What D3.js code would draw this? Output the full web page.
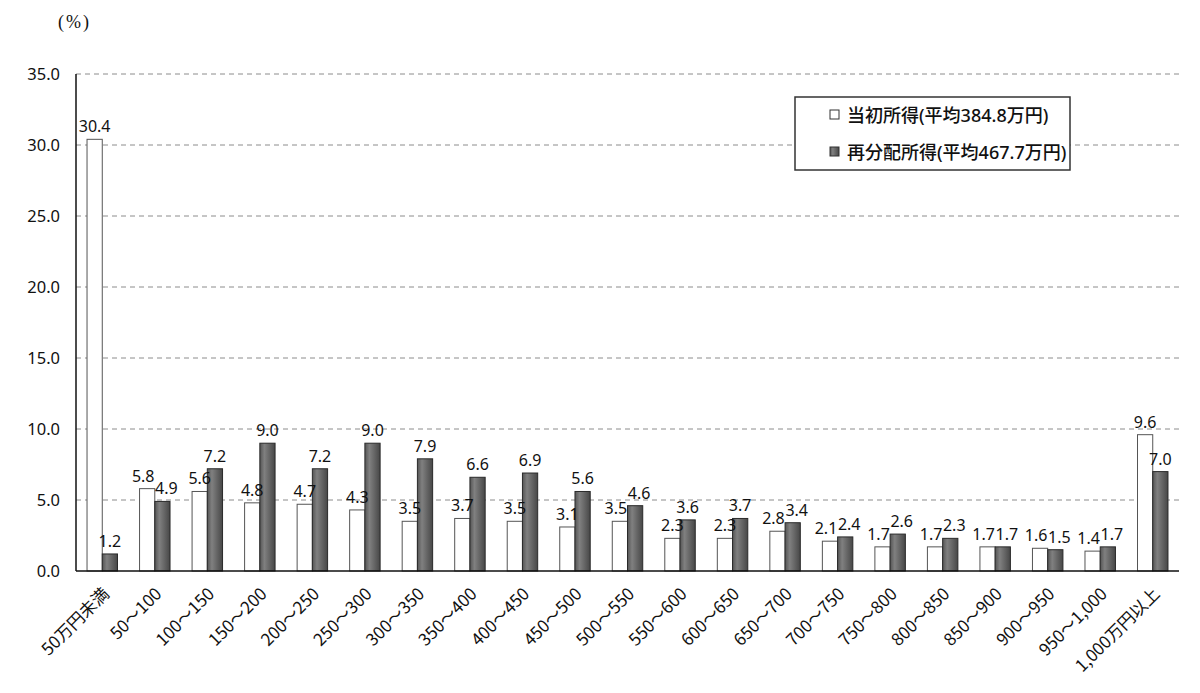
<!DOCTYPE html>
<html>
<head>
<meta charset="utf-8">
<script src="https://cdn.jsdelivr.net/npm/d3@7"></script>
<style>
  body { margin: 0; background: #fff; }
  text { font-family: "Noto Sans", "Noto Sans CJK JP", sans-serif; fill: #111; }
</style>
</head>
<body>
<div id="chart"></div>
<script>
const categories = ["50万円未満", "50～100", "100～150", "150～200", "200～250", "250～300",
  "300～350", "350～400", "400～450", "450～500", "500～550", "550～600", "600～650",
  "650～700", "700～750", "750～800", "800～850", "850～900", "900～950", "950～1,000", "1,000万円以上"];
const initialIncome = [30.4, 5.8, 5.6, 4.8, 4.7, 4.3, 3.5, 3.7, 3.5, 3.1, 3.5, 2.3, 2.3, 2.8, 2.1, 1.7, 1.7, 1.7, 1.6, 1.4, 9.6];
const redistributedIncome = [1.2, 4.9, 7.2, 9.0, 7.2, 9.0, 7.9, 6.6, 6.9, 5.6, 4.6, 3.6, 3.7, 3.4, 2.4, 2.6, 2.3, 1.7, 1.5, 1.7, 7.0];
const seriesNames = ["当初所得(平均384.8万円)", "再分配所得(平均467.7万円)"];
const yTicks = [0, 5, 10, 15, 20, 25, 30, 35];

const width = 1200, height = 693;
const margin = { top: 74, right: 21, bottom: 122, left: 76 };

const svg = d3.select("#chart").append("svg")
  .attr("width", width)
  .attr("height", height);

const defs = svg.append("defs");
const grad = defs.append("linearGradient").attr("id", "darkGrad")
  .attr("x1", "0%").attr("x2", "100%").attr("y1", "0%").attr("y2", "0%");
grad.append("stop").attr("offset", "0%").attr("stop-color", "#555");
grad.append("stop").attr("offset", "30%").attr("stop-color", "#808080");
grad.append("stop").attr("offset", "100%").attr("stop-color", "#474747");

const x0 = d3.scaleBand()
  .domain(categories)
  .range([margin.left, width - margin.right])
  .paddingInner(0.42)
  .paddingOuter(0.21);

const x1 = d3.scaleBand()
  .domain([0, 1])
  .range([0, x0.bandwidth()]);

const y = d3.scaleLinear()
  .domain([0, 35])
  .range([height - margin.bottom, margin.top]);

// grid lines
svg.append("g")
  .selectAll("line")
  .data(yTicks.filter(d => d > 0))
  .enter()
  .append("line")
  .attr("x1", margin.left)
  .attr("x2", width - margin.right)
  .attr("y1", d => y(d))
  .attr("y2", d => y(d))
  .attr("stroke", "#8c8c8c")
  .attr("stroke-width", 1)
  .attr("stroke-dasharray", "5,4");

// y axis labels
const yAxis = d3.axisLeft(y).tickValues(yTicks).tickFormat(d3.format(".1f")).tickSize(0).tickPadding(16);
const yG = svg.append("g")
  .attr("transform", `translate(${margin.left},0)`)
  .call(yAxis);
yG.select(".domain").remove();
yG.selectAll("text").attr("font-size", 16.5).attr("fill", "#111")
  .style("font-family", "'Noto Sans', sans-serif");

// bars
const groups = svg.append("g")
  .selectAll("g")
  .data(categories.map((c, i) => ({ c, vals: [initialIncome[i], redistributedIncome[i]] })))
  .enter()
  .append("g")
  .attr("transform", d => `translate(${x0(d.c)},0)`);

groups.selectAll("rect")
  .data(d => d.vals.map((v, k) => ({ v, k })))
  .enter()
  .append("rect")
  .attr("x", d => x1(d.k))
  .attr("y", d => y(d.v))
  .attr("width", x1.bandwidth())
  .attr("height", d => y(0) - y(d.v))
  .attr("fill", d => d.k === 0 ? "#fff" : "url(#darkGrad)")
  .attr("stroke", d => d.k === 0 ? "#555" : "#2a2a2a")
  .attr("stroke-width", 1);

// value labels, nudged apart when the two labels of a pair sit at similar heights
groups.selectAll("text.val")
  .data(d => {
    const close = Math.abs(y(d.vals[0]) - y(d.vals[1])) < 16;
    return d.vals.map((v, k) => ({ v, k, close }));
  })
  .enter()
  .append("text")
  .attr("class", "val")
  .attr("x", d => x1(d.k) + x1.bandwidth() / 2 + (d.close ? (d.k === 0 ? -4 : 4) : 0))
  .attr("y", d => y(d.v) - 7)
  .attr("text-anchor", "middle")
  .attr("font-size", 16)
  .text(d => d3.format(".1f")(d.v));

// axes lines
svg.append("line")
  .attr("x1", margin.left).attr("x2", margin.left)
  .attr("y1", y(35)).attr("y2", y(0))
  .attr("stroke", "#111").attr("stroke-width", 1.5);
svg.append("line")
  .attr("x1", margin.left).attr("x2", width - margin.right)
  .attr("y1", y(0)).attr("y2", y(0))
  .attr("stroke", "#111").attr("stroke-width", 1.5);

// x labels
svg.append("g")
  .selectAll("text")
  .data(categories)
  .enter()
  .append("text")
  .attr("transform", d => `translate(${x0(d) + x0.bandwidth() / 2 + 8},${y(0) + 24}) rotate(-45)`)
  .attr("text-anchor", "end")
  .attr("font-size", 17)
  .style("font-family", "'Noto Sans CJK JP', sans-serif")
  .text(d => d);

// unit label
svg.append("text")
  .attr("x", 58).attr("y", 28)
  .attr("font-size", 18)
  .attr("letter-spacing", 2)
  .style("font-family", "'Liberation Serif', serif")
  .attr("fill", "#333")
  .text("(%)");

// legend
const legend = svg.append("g");
legend.append("rect")
  .attr("x", 795).attr("y", 97)
  .attr("width", 275).attr("height", 73)
  .attr("fill", "#fff")
  .attr("stroke", "#333").attr("stroke-width", 1.5);

const legendRows = legend.selectAll("g")
  .data(seriesNames)
  .enter()
  .append("g")
  .attr("transform", (d, i) => `translate(830,${115 + i * 37})`);

legendRows.append("rect")
  .attr("x", 0).attr("y", -5)
  .attr("width", 9).attr("height", 9)
  .attr("fill", (d, i) => i === 0 ? "#fff" : "url(#darkGrad)")
  .attr("stroke", "#333").attr("stroke-width", 1);

legendRows.append("text")
  .attr("x", 17).attr("y", 7)
  .attr("font-size", 18)
  .attr("font-weight", 500)
  .text(d => d);
</script>
</body>
</html>
